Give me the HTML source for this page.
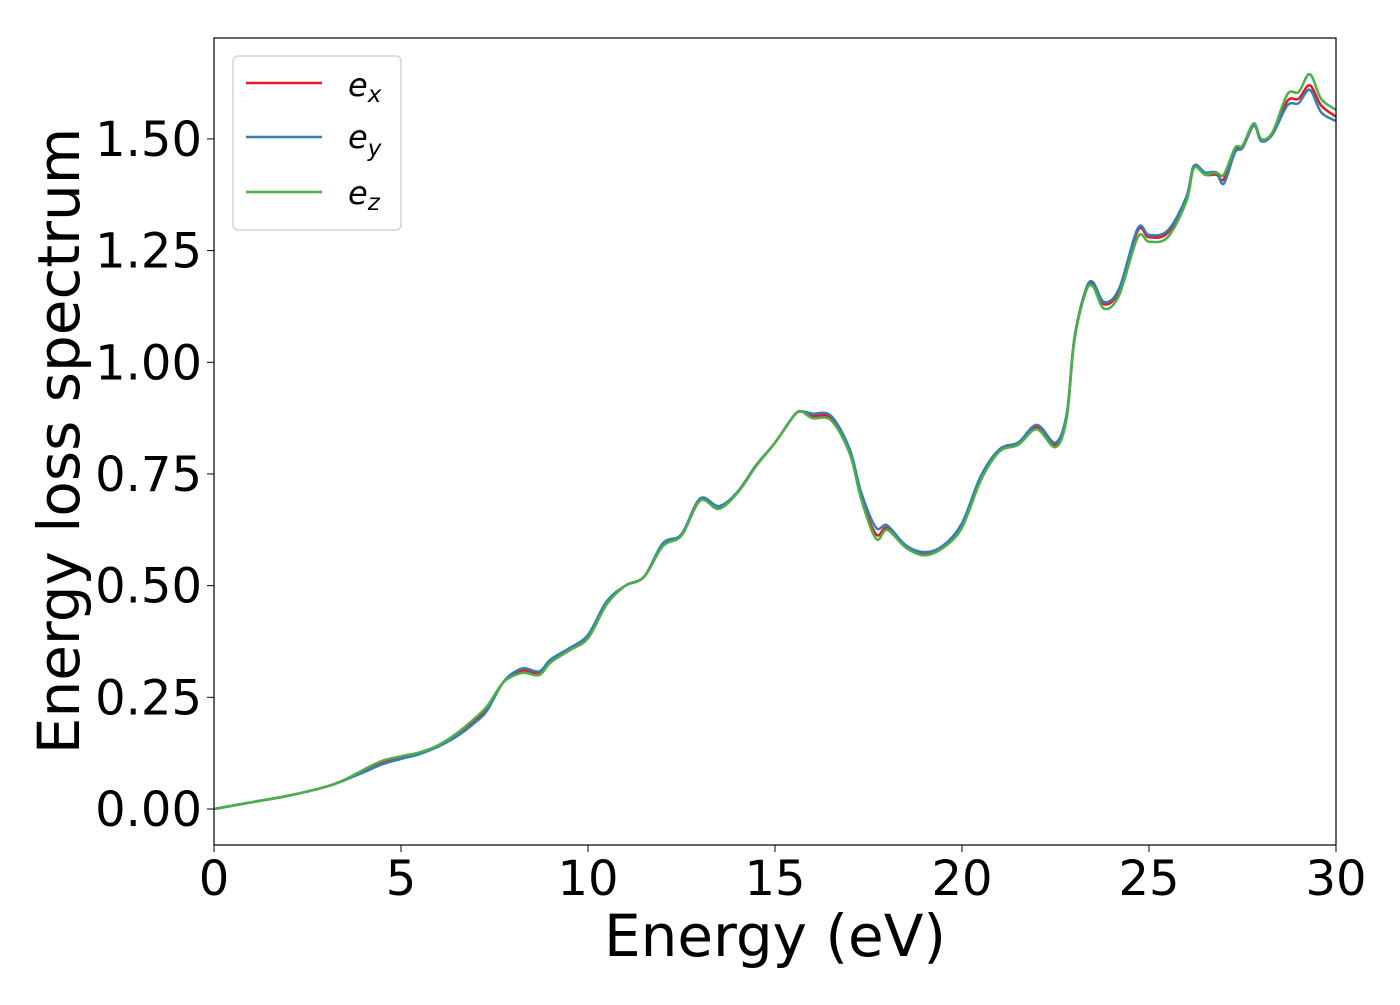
<!DOCTYPE html>
<html><head><meta charset="utf-8"><style>
body{margin:0;background:#fff;}
text{font-family:"DejaVu Sans","Liberation Sans",sans-serif;}
</style></head><body>
<svg id="chart" width="1400" height="1000" xmlns="http://www.w3.org/2000/svg">
<rect width="1400" height="1000" fill="#fff"/>
<g id="lines"></g>
<rect x="214" y="38" width="1122" height="807" fill="none" stroke="#000" stroke-width="1.2"/>
<g id="xticks"></g>
<g id="yticks"></g>
<text x="775" y="956" font-size="58" text-anchor="middle">Energy (eV)</text>
<text transform="translate(79,441) rotate(-90)" font-size="58" text-anchor="middle">Energy loss spectrum</text>
<g>
<rect x="233" y="56" width="168" height="174" rx="5" fill="#fff" stroke="#ccc" stroke-width="1.2"/>
<g><line x1="246" y1="83" x2="322" y2="83" stroke="#e41a1c" stroke-width="2.5"/><text x="348" y="96" font-size="32" font-style="italic">e<tspan font-size="23" dy="6">x</tspan></text></g>
<g><line x1="246" y1="137" x2="322" y2="137" stroke="#377eb8" stroke-width="2.5"/><text x="348" y="148" font-size="32" font-style="italic">e<tspan font-size="23" dy="8">y</tspan></text></g>
<g><line x1="246" y1="192" x2="322" y2="192" stroke="#4daf4a" stroke-width="2.5"/><text x="348" y="204" font-size="32" font-style="italic">e<tspan font-size="23" dy="6">z</tspan></text></g>
</g>
</svg>
<script>
const energy=[0,1,2,3,3.5,4,4.5,5,5.5,6,6.5,7,7.3,7.7,8,8.3,8.7,9,9.5,10,10.5,11,11.5,12,12.5,13,13.5,14,14.5,15,15.5,15.7,16,16.5,17,17.3,17.7,18,18.5,19,19.5,20,20.5,21,21.5,22,22.5,22.8,23,23.3,23.5,23.8,24.2,24.7,25,25.5,26,26.2,26.5,26.8,27,27.3,27.5,27.8,28,28.3,28.7,29,29.3,29.6,30];
const ex=[0,0.015,0.03,0.05,0.065,0.085,0.105,0.115,0.125,0.14,0.165,0.2,0.225,0.28,0.3,0.31,0.305,0.33,0.355,0.385,0.46,0.5,0.52,0.59,0.615,0.695,0.675,0.71,0.77,0.82,0.88,0.89,0.88,0.875,0.8,0.7,0.615,0.63,0.59,0.57,0.59,0.635,0.74,0.805,0.82,0.855,0.815,0.88,1.05,1.16,1.175,1.13,1.16,1.295,1.28,1.29,1.37,1.44,1.42,1.42,1.41,1.475,1.48,1.53,1.5,1.51,1.585,1.59,1.62,1.575,1.55];
const ey=[0,0.015,0.03,0.05,0.065,0.082,0.1,0.112,0.123,0.14,0.163,0.195,0.22,0.28,0.305,0.315,0.308,0.335,0.36,0.39,0.465,0.5,0.52,0.595,0.615,0.695,0.678,0.71,0.77,0.82,0.88,0.89,0.885,0.88,0.805,0.71,0.63,0.635,0.59,0.575,0.59,0.64,0.745,0.805,0.82,0.86,0.82,0.885,1.05,1.16,1.18,1.135,1.165,1.3,1.285,1.295,1.37,1.44,1.425,1.425,1.4,1.47,1.48,1.53,1.495,1.51,1.575,1.58,1.61,1.56,1.54];
const ez=[0,0.015,0.03,0.05,0.066,0.088,0.108,0.118,0.127,0.143,0.17,0.205,0.23,0.28,0.298,0.305,0.3,0.328,0.355,0.382,0.458,0.5,0.52,0.588,0.612,0.69,0.672,0.708,0.768,0.82,0.88,0.89,0.875,0.87,0.795,0.695,0.605,0.625,0.585,0.568,0.585,0.63,0.735,0.8,0.815,0.85,0.81,0.875,1.045,1.155,1.17,1.12,1.15,1.28,1.27,1.28,1.36,1.435,1.42,1.425,1.42,1.48,1.485,1.535,1.5,1.515,1.6,1.605,1.645,1.59,1.565];
const xTicks=[0,5,10,15,20,25,30];
const yTicks=[0,0.25,0.5,0.75,1.0,1.25,1.5];
const X=v=>214+v*(1122/30);
const Y=v=>809-v*446.7;
const NS="http://www.w3.org/2000/svg";
function path(xs,ys){
  const p=xs.map((x,i)=>[X(x),Y(ys[i])]);
  let d=`M${p[0][0]},${p[0][1]}`;
  for(let i=0;i<p.length-1;i++){
    const p0=p[Math.max(0,i-1)],p1=p[i],p2=p[i+1],p3=p[Math.min(p.length-1,i+2)];
    const c1=[p1[0]+(p2[0]-p0[0])/6,p1[1]+(p2[1]-p0[1])/6];
    const c2=[p2[0]-(p3[0]-p1[0])/6,p2[1]-(p3[1]-p1[1])/6];
    d+=`C${c1[0]},${c1[1]} ${c2[0]},${c2[1]} ${p2[0]},${p2[1]}`;
  }
  return d;
}
const lg=document.getElementById('lines');
[[ex,'#e41a1c','series-ex'],[ey,'#377eb8','series-ey'],[ez,'#4daf4a','series-ez']].forEach(([s,c,n])=>{
  const el=document.createElementNS(NS,'path');
  el.setAttribute('d',path(energy,s));
  el.setAttribute('fill','none');el.setAttribute('stroke',c);el.setAttribute('stroke-width','2.5');
  
  
  lg.appendChild(el);
});
const xg=document.getElementById('xticks');
xTicks.forEach(t=>{
  const l=document.createElementNS(NS,'line');
  l.setAttribute('x1',X(t));l.setAttribute('x2',X(t));l.setAttribute('y1',845);l.setAttribute('y2',852);l.setAttribute('stroke','#000');
  
  
  xg.appendChild(l);
  const tx=document.createElementNS(NS,'text');
  tx.setAttribute('x',X(t));tx.setAttribute('y',895);tx.setAttribute('font-size','48');tx.setAttribute('text-anchor','middle');
  tx.textContent=t;
  
  
  xg.appendChild(tx);
});
const yg=document.getElementById('yticks');
yTicks.forEach(t=>{
  const l=document.createElementNS(NS,'line');
  l.setAttribute('x1',207);l.setAttribute('x2',214);l.setAttribute('y1',Y(t));l.setAttribute('y2',Y(t));l.setAttribute('stroke','#000');
  
  
  yg.appendChild(l);
  const tx=document.createElementNS(NS,'text');
  tx.setAttribute('x',202);tx.setAttribute('y',Y(t)+17);tx.setAttribute('font-size','48');tx.setAttribute('text-anchor','end');
  tx.textContent=t.toFixed(2);
  
  
  yg.appendChild(tx);
});
</script>
</body></html>
